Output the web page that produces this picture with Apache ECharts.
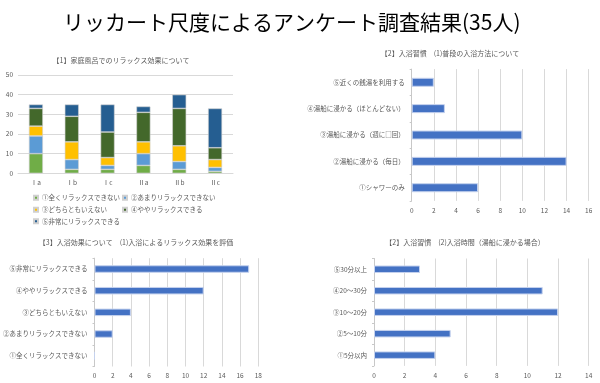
<!DOCTYPE html>
<html><head><meta charset="utf-8">
<script src="https://cdn.jsdelivr.net/npm/echarts@6/dist/echarts.min.js"></script>
<style>html,body{margin:0;padding:0;background:#fff}#c{width:600px;height:383px}</style>
</head><body><div id="c"></div>
<script>
const mainTitle = 'リッカート尺度によるアンケート調査結果(35人)';

// [1] stacked chart
const t1Title = '【1】家庭風呂でのリラックス効果について';
const t1Cats = ['Ⅰa','Ⅰb','Ⅰc','Ⅱa','Ⅱb','Ⅱc'];
const t1Names = ['①全くリラックスできない','②あまりリラックスできない','③どちらともいえない','④ややリラックスできる','⑤非常にリラックスできる'];
const t1S1 = [10,2,2,4,2,1];
const t1S2 = [9,5,2,6,4,2];
const t1S3 = [5,9,4,6,8,4];
const t1S4 = [9,13,13,15,19,6];
const t1S5 = [2,6,14,3,7,20];
const t1Ticks = [0,10,20,30,40,50];

// [2](1)
const t2Title = '【2】入浴習慣　(1)普段の入浴方法について';
const t2Cats = ['①シャワーのみ','②湯船に浸かる（毎日）','③湯船に浸かる（週に□回）','④湯船に浸かる（ほとんどない）','⑤近くの銭湯を利用する'];
const t2Vals = [6,14,10,3,2];
const t2Ticks = [0,2,4,6,8,10,12,14,16];

// [3](1)
const t3Title = '【3】入浴効果について　(1)入浴によるリラックス効果を評価';
const t3Cats = ['①全くリラックスできない','②あまりリラックスできない','③どちらともいえない','④ややリラックスできる','⑤非常にリラックスできる'];
const t3Vals = [0,2,4,12,17];
const t3Ticks = [0,2,4,6,8,10,12,14,16,18];

// [2](2)
const t4Title = '【2】入浴習慣　(2)入浴時間（湯船に浸かる場合）';
const t4Cats = ['①5分以内','②5～10分','③10～20分','④20～30分','⑤30分以上'];
const t4Vals = [4,5,12,11,3];
const t4Ticks = [0,2,4,6,8,10,12,14];

const colors = ['#70AD47','#5B9BD5','#FFC000','#43682B','#255E91'];
const FONT = '"Noto Sans CJK JP", sans-serif';
const gray = '#595959';
const lab = {color: gray, fontSize: 6.5, fontFamily: FONT};

const chart = echarts.init(document.getElementById('c'), null, {renderer:'canvas'});

const subTitle = (text, x, y) => ({text, left: x, top: y - 4.5, textAlign: 'center', padding: 0,
  textStyle: {fontSize: 7, fontWeight: 'normal', color: gray, fontFamily: FONT}});

const t1Data = [t1S1,t1S2,t1S3,t1S4,t1S5];
const legendPos = [[33,199],[122,199],[33,211],[122,211],[33,222.5]];

function hbarAxes(gi, cats, ticks) {
  return {
    x: {type:'value', gridIndex: gi, min: ticks[0], max: ticks[ticks.length-1], interval: ticks[1]-ticks[0],
        axisLine:{show:false}, axisTick:{show:false},
        splitLine:{show:true, lineStyle:{color:'#d9d9d9', width:1}},
        axisLabel:Object.assign({margin:6}, lab)},
    y: {type:'category', gridIndex: gi, data: cats,
        axisLine:{show:true, lineStyle:{color:'#c8c8c8'}},
        axisTick:{show:true, length:2, lineStyle:{color:'#c8c8c8'}},
        axisLabel:Object.assign({margin:7}, lab)}
  };
}
const a2 = hbarAxes(1, t2Cats, t2Ticks);
const a3 = hbarAxes(2, t3Cats, t3Ticks);
const a4 = hbarAxes(3, t4Cats, t4Ticks);

const hbarStyle = {color:'#4472C4', borderColor:'#c5d2ee', borderWidth:1};

const option = {
  animation: false,
  title: [
    {text: mainTitle, left: 63, top: 12, padding: 0,
     textStyle:{fontSize: 21, fontWeight:'normal', color:'#000', fontFamily: FONT}},
    subTitle(t1Title, 121, 61.5),
    subTitle(t2Title, 450, 54.5),
    subTitle(t3Title, 136, 243),
    subTitle(t4Title, 465, 243)
  ],
  legend: t1Names.map((n,i) => ({
    data:[n], left: legendPos[i][0], top: legendPos[i][1]-4.5, padding:0,
    itemWidth:4, itemHeight:4, icon:'rect', itemGap:4,
    textStyle:{color: gray, fontSize: 6.5, fontFamily: FONT, padding:[0,0,0,-1]}
  })),
  grid: [
    {left:18, top:75, width:215, height:98.3},
    {left:411.7, top:69.1, width:177, height:131.8},
    {left:92.3, top:258.2, width:166, height:108.3},
    {left:374, top:258.5, width:214.7, height:107.4}
  ],
  xAxis: [
    {type:'category', gridIndex:0, data:t1Cats,
     axisLine:{show:true, lineStyle:{color:'#d9d9d9'}}, axisTick:{show:false},
     axisLabel:Object.assign({margin:6}, lab)},
    a2.x, a3.x, a4.x
  ],
  yAxis: [
    {type:'value', gridIndex:0, min:t1Ticks[0], max:t1Ticks[t1Ticks.length-1], interval:t1Ticks[1]-t1Ticks[0],
     axisLine:{show:false}, axisTick:{show:false},
     splitLine:{show:true, lineStyle:{color:'#d9d9d9'}},
     axisLabel:Object.assign({margin:5}, lab)},
    a2.y, a3.y, a4.y
  ],
  series: [
    ...t1Names.map((n,i) => ({
      name:n, type:'bar', stack:'t1', xAxisIndex:0, yAxisIndex:0, data:t1Data[i], barWidth:14,
      itemStyle:{color:colors[i], borderColor:'#d0d0d0', borderWidth:0.6}
    })),
    {type:'bar', xAxisIndex:1, yAxisIndex:1, data:t2Vals, barWidth:9, itemStyle:hbarStyle},
    {type:'bar', xAxisIndex:2, yAxisIndex:2, data:t3Vals, barWidth:7.5, itemStyle:hbarStyle},
    {type:'bar', xAxisIndex:3, yAxisIndex:3, data:t4Vals, barWidth:7.5, itemStyle:hbarStyle}
  ]
};
chart.setOption(option);
</script></body></html>
